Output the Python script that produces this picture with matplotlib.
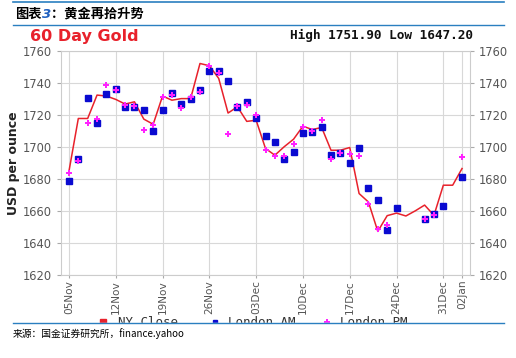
import matplotlib
matplotlib.use("Agg")
import matplotlib.pyplot as plt
import numpy as np
import pandas as pd

plt.rcParams["font.family"] = ["DejaVu Sans", "Noto Sans CJK SC"]

# weekdays 2012-11-05 .. 2013-01-02, one slot per weekday
days = pd.bdate_range("2012-11-05", "2013-01-02")

ny_close = [1684.7, 1717.6, 1717.6, 1732.2, 1731.6, 1729.5, 1726.6, 1728.0, 1717.2, 1714.0,
            1731.6, 1729.0, 1730.0, 1730.0, 1751.9, 1750.5, 1742.6, 1721.0, 1724.9, 1715.8,
            1716.5, 1698.9, 1694.7, 1700.0, 1704.7, 1712.8, 1710.7, 1712.0, 1697.8, 1697.8,
            1699.5, 1670.8, 1665.5, 1647.2, 1657.0, 1658.6, 1656.8, 1660.0, 1663.6, 1657.2,
            1676.0, 1676.0, 1686.4]
london_am = [1678.4, 1692.2, 1730.1, 1714.9, 1732.8, 1735.7, 1724.5, 1724.5, 1723.2, 1709.9,
             1723.2, 1733.2, 1726.6, 1729.5, 1735.1, 1747.4, 1747.4, 1741.1, 1724.5, 1728.0,
             1718.0, 1706.6, 1703.0, 1692.6, 1696.8, 1708.6, 1709.3, 1712.0, 1694.7, 1696.1,
             1689.9, 1699.5, 1674.3, 1666.6, 1648.3, 1661.8, np.nan, np.nan, 1654.7, 1658.2,
             1663.0, np.nan, 1681.4]
london_pm = [1683.6, 1691.1, 1714.9, 1717.0, 1738.4, 1735.3, 1725.9, 1725.3, 1710.3, 1713.4,
             1730.7, 1732.2, 1723.9, 1730.7, 1734.3, 1750.3, 1745.7, 1707.8, 1725.3, 1725.9,
             1719.7, 1697.8, 1694.1, 1694.1, 1701.6, 1712.0, 1709.9, 1716.6, 1692.6, 1696.1,
             1695.7, 1694.1, 1664.5, 1648.9, 1651.0, np.nan, np.nan, np.nan, 1654.7, 1657.6,
             np.nan, np.nan, 1693.6]

x = np.arange(len(days))
tick_idx = [i for i, d in enumerate(days) if d.weekday() == 0] + [len(days) - 1]
tick_labels = [days[i].strftime("%d%b") for i in tick_idx]

fig = plt.figure(figsize=(5.16, 3.58), dpi=100)
ax = fig.add_axes([61 / 516, 1 - 275 / 358, 409 / 516, 224.5 / 358])

red = "#e8212b"
ax.plot(x, ny_close, color=red, lw=1.1, zorder=3)
ax.plot(x, london_am, ls="none", marker="s", ms=4.6, color="#0a0ad0", zorder=4)
ax.plot(x, london_pm, ls="none", marker="P", ms=5, color="#ff22ff", mew=0, zorder=5)

ax.set_xlim(-0.85, len(days) - 1 + 0.85)
ax.set_ylim(1620, 1760)
ax.set_yticks(np.arange(1620, 1761, 20))
ax.set_xticks(tick_idx)
ax.set_xticklabels(tick_labels, rotation=90)
ax.tick_params(axis="both", colors="#aaaaaa", labelcolor="#555555", labelsize=8.3, length=3)
ax.tick_params(axis="x", labelsize=7.6, pad=1.5, length=2)
ax.tick_params(axis="y", left=True, right=True, labelleft=True, labelright=True)
ax.grid(True, color="#d8d8d8", lw=0.8)
for s in ax.spines.values():
    s.set_color("#cccccc")
ax.set_ylabel("USD per ounce", fontsize=9, fontweight="bold", color="#222222", labelpad=2)

# header
fig.add_artist(plt.Line2D([13 / 516, 504 / 516], [1 - 2 / 358] * 2, color="#2a7fc0", lw=1.2))
fig.add_artist(plt.Line2D([13 / 516, 504 / 516], [1 - 25 / 358] * 2, color="#2a7fc0", lw=1.0))
fig.text(15 / 516, 1 - 14 / 358, "图表", fontsize=9.5, fontweight="bold", va="center",
         family="Noto Sans CJK SC")
fig.text(42 / 516, 1 - 14 / 358, "3", fontsize=9.5, fontweight="bold", va="center",
         color="#1f5fbf", style="italic")
fig.text(51 / 516, 1 - 14 / 358, "：黄金再拾升势", fontsize=9.5, fontweight="bold", va="center",
         family="Noto Sans CJK SC")

fig.text(30 / 516, 1 - 36 / 358, "60 Day Gold", fontsize=11.5, fontweight="bold", color=red,
         va="center")
fig.text(473 / 516, 1 - 35 / 358, "High 1751.90 Low 1647.20", fontsize=9.2, fontweight="bold",
         family="DejaVu Sans Mono", ha="right", va="center", color="#111111")

# legend row, cut by the footer line as in the original
leg_y = 1 - 322 / 358
fig.add_artist(plt.Line2D([103 / 516], [leg_y], marker="s", ms=5, color=red))
fig.text(118 / 516, leg_y, "NY Close", fontsize=9, family="DejaVu Sans Mono", va="center",
         color="#333333")
fig.add_artist(plt.Line2D([215 / 516], [leg_y], marker="s", ms=3, color="#0a0ad0"))
fig.text(228 / 516, leg_y, "London AM", fontsize=9, family="DejaVu Sans Mono", va="center",
         color="#333333")
fig.add_artist(plt.Line2D([327 / 516], [leg_y], marker="P", ms=5, mew=0, color="#ff22ff"))
fig.text(340 / 516, leg_y, "London PM", fontsize=9, family="DejaVu Sans Mono", va="center",
         color="#333333")
fig.add_artist(plt.Rectangle((0, 0), 1, 1 - 323 / 358, transform=fig.transFigure,
                             color="white", zorder=10))
fig.add_artist(plt.Line2D([13 / 516, 504 / 516], [1 - 323 / 358] * 2, color="#2a7fc0",
                          lw=1.0, zorder=11))
fig.text(13 / 516, 1 - 334 / 358, "来源：国金证券研究所，finance.yahoo", fontsize=7,
         va="center", family=["Noto Sans CJK SC", "DejaVu Sans"], zorder=12)

fig.savefig("out.png", dpi=100)
